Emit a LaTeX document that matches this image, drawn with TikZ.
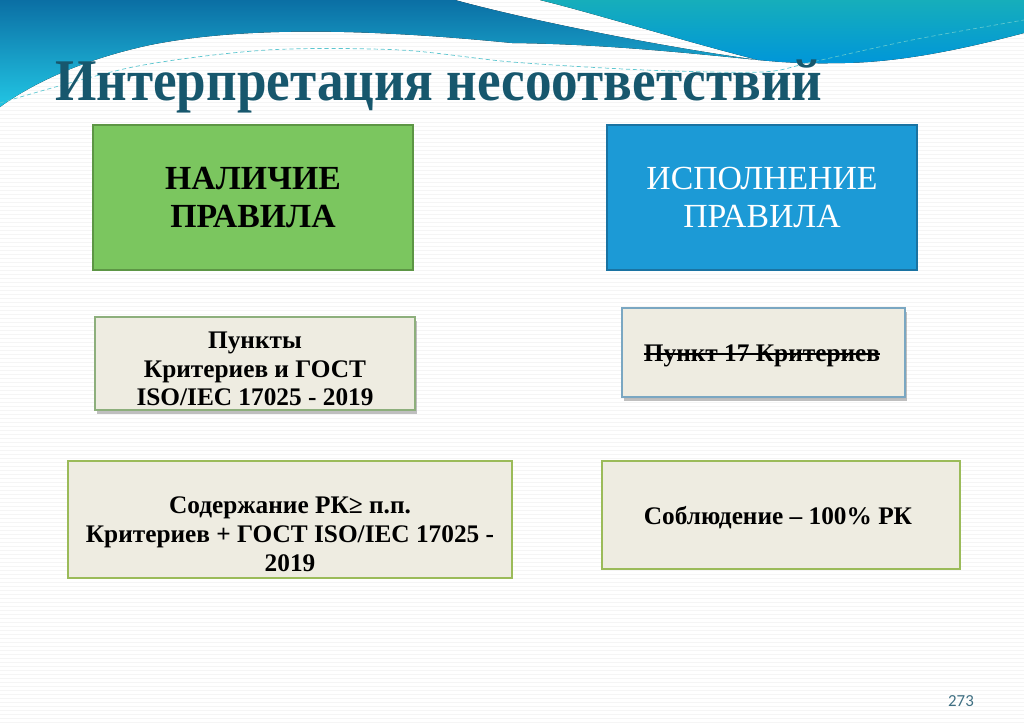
\documentclass[tikz,border=0pt]{standalone}
\usepackage{fontspec}
\setmainfont{Liberation Serif}
\newfontfamily\pagefont{Carlito}
\usetikzlibrary{shadows}

\definecolor{WaveDeep}{HTML}{0B6FA4}
\definecolor{WaveCyan}{HTML}{22C6E4}
\definecolor{WaveTeal}{HTML}{16AEBB}
\definecolor{WaveBlue}{HTML}{0096D9}
\definecolor{TitleTeal}{HTML}{17576D}
\definecolor{RuleGreen}{HTML}{7BC65F}
\definecolor{RuleGreenDark}{HTML}{5D9645}
\definecolor{DoBlue}{HTML}{1C9AD6}
\definecolor{DoBlueDark}{HTML}{1A73A2}
\definecolor{Paper}{HTML}{EEECE1}
\definecolor{OliveLine}{HTML}{9BBB59}
\definecolor{GreyLine}{HTML}{8DAF7C}
\definecolor{SteelLine}{HTML}{7AA7C2}
\definecolor{PageTeal}{HTML}{3F6F82}

\begin{document}
\begin{tikzpicture}[x=0.025cm, y=-0.025cm,
  stripe/.style={black!4, line width=0.4pt},
  headbox/.style={draw, line width=1.2pt, minimum height=3.625cm, align=center, inner sep=0pt},
  notebox/.style={draw, fill=Paper, align=center, inner sep=0pt, font=\fontsize{18}{20.5}\selectfont\bfseries},
  notetext/.style={align=center, inner sep=0pt, font=\fontsize{18}{20.5}\selectfont\bfseries},
  boxshadow/.style={drop shadow={shadow xshift=0.04cm, shadow yshift=-0.09cm, opacity=0.5}}
]
  \useasboundingbox (0,0) rectangle (1024,723);
  % faint ruled background
  \foreach \y in {2,6,...,722}
    \draw[stripe] (0,\y) -- (1024,\y);

  % header waves
  \fill[top color=WaveDeep, bottom color=WaveCyan]
    (0,0) -- (455,0) .. controls (520,18) and (650,45) .. (758,60)
    .. controls (660,50) and (590,44) .. (512,43)
    .. controls (380,30) and (250,25) .. (150,45)
    .. controls (80,60) and (30,85) .. (0,107) -- cycle;
  \fill[top color=WaveTeal, bottom color=WaveBlue]
    (540,0) -- (1024,0) -- (1024,33)
    .. controls (960,50) and (900,62) .. (845,63)
    .. controls (800,64) and (780,62) .. (758,60)
    .. controls (680,40) and (600,15) .. (540,0) -- cycle;
  \draw[WaveTeal!70, densely dashed, line width=0.5pt]
    plot[smooth] coordinates {(0,103) (133,67) (267,50) (400,50) (512,62) (645,70) (762,72) (812,62) (912,40) (1024,20)};

  % title
  \node[anchor=base west, inner sep=0pt, text=TitleTeal,
        font=\fontsize{42}{42}\selectfont\bfseries] (title) at (55,100)
    {\scalebox{0.9}[1]{Интерпретация несоответствий}};

  % upper row
  \node[headbox, fill=RuleGreen, draw=RuleGreenDark, minimum width=8cm,
        font=\fontsize{24}{27}\selectfont\bfseries] (rule) at (253,197.5)
    {НАЛИЧИЕ\\ПРАВИЛА};
  \node[headbox, fill=DoBlue, draw=DoBlueDark, minimum width=7.75cm, text=white,
        font=\fontsize{24}{27}\selectfont] (practice) at (762,197.5)
    {ИСПОЛНЕНИЕ\\ПРАВИЛА};

  % middle row
  \node[notebox, boxshadow, draw=GreyLine, line width=1pt, minimum width=8cm,
        minimum height=2.325cm] (clauses) at (255,363.5) {};
  \node[notetext] (clausestext) at (255,369)
    {Пункты\\Критериев и ГОСТ\\ISO/IEC 17025 - 2019};
  \node[notebox, boxshadow, draw=SteelLine, line width=1pt, minimum width=7.075cm,
        minimum height=2.225cm] (criterion) at (763.5,352.5) {};
  \node[notetext] (strike) at (762,356) {Пункт 17 Критериев};
  \draw[line width=1pt] ([yshift=1.5pt]strike.west) -- ([yshift=1.5pt]strike.east);

  % lower row
  \node[notebox, draw=OliveLine, line width=1.6pt, minimum width=11.1cm,
        minimum height=2.925cm] (content) at (290,519.5) {};
  \node[notetext] (contenttext) at (290,534)
    {Содержание РК≥ п.п.\\Критериев + ГОСТ ISO/IEC 17025 -\\2019};
  \node[notebox, draw=OliveLine, line width=1.6pt, minimum width=8.95cm,
        minimum height=2.7cm] (compliance) at (781,515) {};
  \node[notetext] (compliancetext) at (778,518) {Соблюдение – 100\% РК};

  % page number
  \node[text=PageTeal, font=\pagefont\fontsize{12}{12}\selectfont] (pagenum) at (961,701) {273};
\end{tikzpicture}
\end{document}
